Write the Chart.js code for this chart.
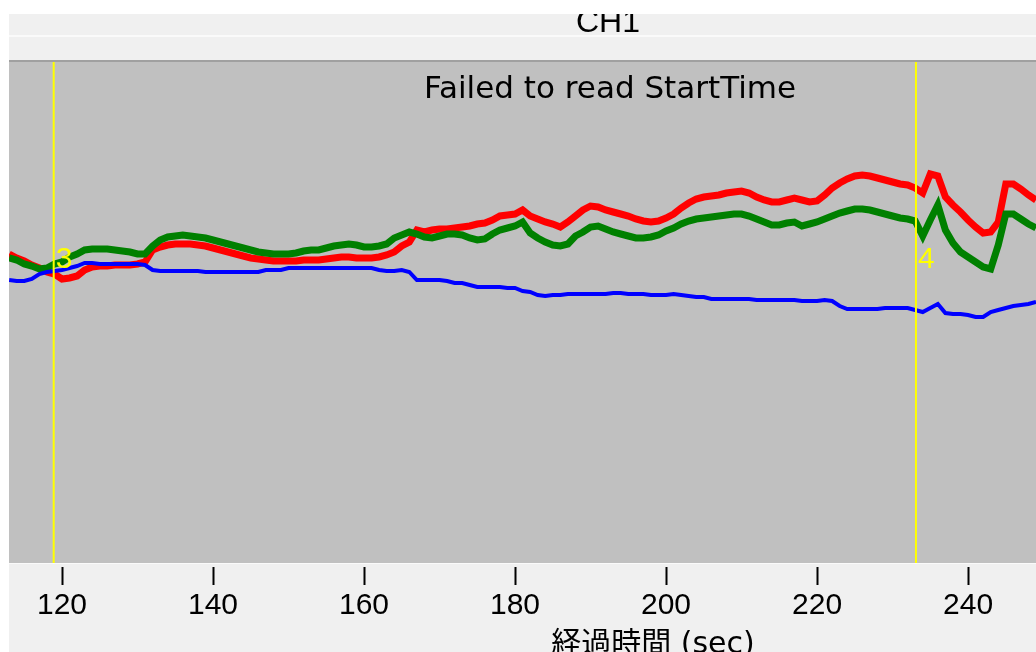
<!DOCTYPE html>
<html><head><meta charset="utf-8">
<script src="https://cdn.jsdelivr.net/npm/chart.js@4.4.1/dist/chart.umd.min.js"></script>
<style>html,body{margin:0;padding:0;background:#fff;}#wrap{width:1036px;height:652px;position:relative;}</style>
</head><body><div id="wrap"><canvas id="c"></canvas></div>
<script>
const times = [113,114,115,116,117,118,119,120,121,122,
123,124,125,126,127,128,129,130,131,132,
133,134,135,136,137,138,139,140,141,142,
143,144,145,146,147,148,149,150,151,152,
153,154,155,156,157,158,159,160,161,162,
163,164,165,166,167,168,169,170,171,172,
173,174,175,176,177,178,179,180,181,182,
183,184,185,186,187,188,189,190,191,192,
193,194,195,196,197,198,199,200,201,202,
203,204,205,206,207,208,209,210,211,212,
213,214,215,216,217,218,219,220,221,222,
223,224,225,226,227,228,229,230,231,232,
233,234,235,236,237,238,239,240,241,242,
243,244,245,246,247,248,249];
const redValues = [2.2,1.8,1.5,1.1,0.8,0.4,0.2,-0.3,-0.2,0.0,
0.6,0.9,1.0,1.0,1.1,1.1,1.1,1.2,1.4,2.6,
2.9,3.1,3.2,3.2,3.2,3.1,3.0,2.8,2.6,2.4,
2.2,2.0,1.8,1.7,1.6,1.5,1.5,1.5,1.5,1.6,
1.6,1.6,1.7,1.8,1.9,1.9,1.8,1.8,1.8,1.9,
2.1,2.4,3.0,3.4,4.6,4.4,4.6,4.7,4.7,4.8,
4.9,5.0,5.2,5.3,5.6,6.0,6.1,6.2,6.6,6.0,
5.7,5.4,5.2,4.9,5.4,6.0,6.6,7.0,6.9,6.6,
6.4,6.2,6.0,5.7,5.5,5.4,5.5,5.8,6.2,6.8,
7.3,7.7,7.9,8.0,8.1,8.3,8.4,8.5,8.3,7.9,
7.6,7.4,7.4,7.6,7.8,7.6,7.4,7.5,8.1,8.8,
9.3,9.7,10.0,10.1,10.0,9.8,9.6,9.4,9.2,9.1,
8.8,8.3,10.2,10.0,7.9,7.1,6.4,5.6,4.9,4.3,
4.4,5.4,9.2,9.2,8.7,8.1,7.6];
const greenValues = [1.8,1.6,1.2,1.0,0.7,0.8,1.2,1.4,1.9,2.2,
2.6,2.7,2.7,2.7,2.6,2.5,2.4,2.2,2.2,3.0,
3.6,3.9,4.0,4.1,4.0,3.9,3.8,3.6,3.4,3.2,
3.0,2.8,2.6,2.4,2.3,2.2,2.2,2.2,2.3,2.5,
2.6,2.6,2.8,3.0,3.1,3.2,3.1,2.9,2.9,3.0,
3.2,3.8,4.1,4.4,4.2,3.9,3.8,4.0,4.2,4.2,
4.1,3.8,3.6,3.7,4.2,4.6,4.8,5.0,5.4,4.3,
3.8,3.4,3.1,3.0,3.2,4.0,4.4,4.9,5.0,4.7,
4.4,4.2,4.0,3.8,3.8,3.9,4.1,4.5,4.8,5.2,
5.5,5.7,5.8,5.9,6.0,6.1,6.2,6.2,6.0,5.7,
5.4,5.1,5.1,5.3,5.4,5.0,5.2,5.4,5.7,6.0,
6.3,6.5,6.7,6.7,6.6,6.4,6.2,6.0,5.8,5.7,
5.5,4.0,5.6,7.1,4.6,3.3,2.4,1.9,1.4,0.9,
0.7,3.1,6.2,6.2,5.7,5.2,4.8];
const blueValues = [-0.4,-0.5,-0.5,-0.3,0.2,0.4,0.5,0.6,0.8,1.0,
1.3,1.3,1.2,1.2,1.2,1.2,1.2,1.2,1.1,0.6,
0.5,0.5,0.5,0.5,0.5,0.5,0.4,0.4,0.4,0.4,
0.4,0.4,0.4,0.4,0.6,0.6,0.6,0.8,0.8,0.8,
0.8,0.8,0.8,0.8,0.8,0.8,0.8,0.8,0.8,0.6,
0.5,0.5,0.6,0.4,-0.4,-0.4,-0.4,-0.4,-0.5,-0.7,
-0.7,-0.9,-1.1,-1.1,-1.1,-1.1,-1.2,-1.2,-1.5,-1.6,
-1.9,-2.0,-1.9,-1.9,-1.8,-1.8,-1.8,-1.8,-1.8,-1.8,
-1.7,-1.7,-1.8,-1.8,-1.8,-1.9,-1.9,-1.9,-1.8,-1.9,
-2.0,-2.1,-2.1,-2.3,-2.3,-2.3,-2.3,-2.3,-2.3,-2.4,
-2.4,-2.4,-2.4,-2.4,-2.4,-2.5,-2.5,-2.5,-2.4,-2.5,
-3.0,-3.3,-3.3,-3.3,-3.3,-3.3,-3.2,-3.2,-3.2,-3.2,
-3.4,-3.6,-3.2,-2.8,-3.7,-3.8,-3.8,-3.9,-4.1,-4.1,
-3.6,-3.4,-3.2,-3.0,-2.9,-2.8,-2.6];
const markerTimes = [118.9, 233.1];
const markerLabels = ['3', '4'];
const xTickStep = 20;
const xMin = 112.98, xMax = 249.0;
const yMin = -28.7, yMax = 21.4;
const chartTitle = 'CH1';
const plotTitle = 'Failed to read StartTime';
const xAxisTitle = '経過時間 (sec)';

const sansFam = "'Liberation Sans',Arial,sans-serif";
const pts = v => times.map((t, i) => ({x: t, y: v[i]}));

const bgPlugin = {
  id: 'bg',
  beforeDraw(chart) {
    const ctx = chart.ctx, a = chart.chartArea;
    ctx.save();
    ctx.fillStyle = '#ffffff'; ctx.fillRect(0, 0, chart.width, chart.height);
    ctx.fillStyle = '#f0f0f0'; ctx.fillRect(9, 14, chart.width - 9, chart.height - 14);
    ctx.fillStyle = '#fafafa'; ctx.fillRect(9, 35, chart.width - 9, 2);
    ctx.fillStyle = '#a0a0a0'; ctx.fillRect(9, a.top - 2, chart.width - 9, 2);
    ctx.fillStyle = '#c0c0c0'; ctx.fillRect(a.left, a.top, a.right - a.left, a.bottom - a.top);
    ctx.fillStyle = '#fafafa'; ctx.fillRect(9, a.bottom, chart.width - 9, 1);
    ctx.beginPath(); ctx.rect(9, 14, chart.width - 9, 21); ctx.clip();
    ctx.fillStyle = '#000'; ctx.font = "32px " + sansFam; ctx.textAlign = 'center'; ctx.textBaseline = 'alphabetic';
    ctx.fillText(chartTitle, 608, 32);
    ctx.restore();
  },
  beforeDatasetsDraw(chart) {
    const ctx = chart.ctx;
    ctx.save();
    ctx.fillStyle = '#000'; ctx.font = "31px 'DejaVu Sans',sans-serif"; ctx.textAlign = 'center'; ctx.textBaseline = 'alphabetic';
    ctx.fillText(plotTitle, 610, 98);
    ctx.font = "30px 'DejaVu Sans','Noto Sans CJK JP',sans-serif";
    ctx.fillText(xAxisTitle, 653, 653);
    ctx.restore();
  },
  afterDatasetsDraw(chart) {
    const ctx = chart.ctx, xs = chart.scales.x;
    ctx.save();
    ctx.fillStyle = '#ffff00'; ctx.font = "30px " + sansFam; ctx.textAlign = 'left'; ctx.textBaseline = 'alphabetic';
    markerTimes.forEach((t, i) => ctx.fillText(markerLabels[i], xs.getPixelForValue(t) + 2, 268));
    ctx.restore();
  }
};

const markerSets = markerTimes.map(t => ({
  data: [{x: t, y: yMin}, {x: t, y: yMax}],
  borderColor: '#ffff00', borderWidth: 2, pointRadius: 0, order: -1
}));

new Chart(document.getElementById('c'), {
  type: 'line',
  data: {
    datasets: [
      {label: 'R', data: pts(redValues), borderColor: '#ff0000', borderWidth: 7, pointRadius: 0, order: 3, tension: 0},
      {label: 'G', data: pts(greenValues), borderColor: '#008000', borderWidth: 7, pointRadius: 0, order: 2, tension: 0},
      {label: 'B', data: pts(blueValues), borderColor: '#0000ff', borderWidth: 4, pointRadius: 0, order: 1, tension: 0},
      ...markerSets
    ]
  },
  options: {
    responsive: true, maintainAspectRatio: false, animation: false,
    layout: {padding: {left: 9, top: 62, right: 0, bottom: 0}},
    plugins: {legend: {display: false}, tooltip: {enabled: false}, title: {display: false}},
    scales: {
      x: {
        type: 'linear', min: xMin, max: xMax,
        afterFit: s => { s.height = 89; },
        border: {display: false},
        grid: {drawOnChartArea: false, drawTicks: true, tickLength: 22, tickColor: '#000', tickWidth: 2, tickBorderDash: [0, 4, 18, 100]},
        ticks: {stepSize: xTickStep, includeBounds: false, color: '#000', padding: 3, maxRotation: 0, font: {family: sansFam, size: 30}}
      },
      y: {
        min: yMin, max: yMax,
        afterFit: s => { s.width = 0; },
        border: {display: false},
        grid: {drawTicks: false, lineWidth: 2, color: c => (c.tick && c.tick.value === 0) ? '#8a8a8a' : 'rgba(0,0,0,0)'},
        ticks: {display: false, stepSize: 10, includeBounds: false}
      }
    }
  },
  plugins: [bgPlugin]
});
</script></body></html>
